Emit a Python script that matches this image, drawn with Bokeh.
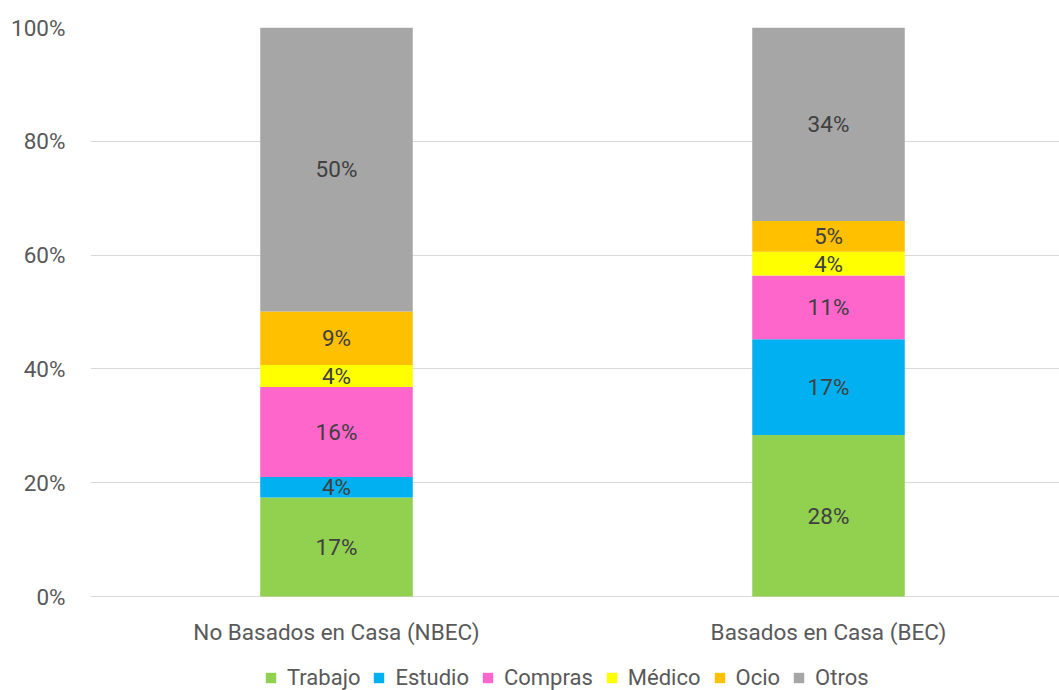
from bokeh.plotting import figure
from bokeh.models import (ColumnDataSource, Range1d, FixedTicker, PrintfTickFormatter,
                          Legend, LegendItem)
from bokeh.core.properties import value
from bokeh.embed import file_html
from bokeh.resources import INLINE

categories = ["No Basados en Casa (NBEC)", "Basados en Casa (BEC)"]
series = ["Trabajo", "Estudio", "Compras", "Médico", "Ocio", "Otros"]
trabajo = [17.4, 28.4]
estudio = [3.6, 16.8]
compras = [15.8, 11.2]
medico = [3.9, 4.2]
ocio = [9.4, 5.4]
otros = [49.9, 34.0]
colors = ["#92d050", "#00b0f0", "#ff66cc", "#ffff00", "#ffc000", "#a6a6a6"]
y_ticks = [0, 20, 40, 60, 80, 100]

FONT = "Roboto"
GREY = "#595959"

xs = list(range(len(categories)))
keys = ["trabajo", "estudio", "compras", "medico", "ocio", "otros"]
vals = [trabajo, estudio, compras, medico, ocio, otros]
data = {"x": xs}
for k, v in zip(keys, vals):
    data[k] = v
src = ColumnDataSource(data)

# frame extends to the bottom of the picture so the legend can sit below the bars
p = figure(width=1059, height=690, output_backend="svg", toolbar_location=None,
           x_range=Range1d(-0.5, 1.4695), y_range=Range1d(-16.52, 100),
           x_axis_location=None,
           min_border_left=90, min_border_right=0, min_border_top=27,
           min_border_bottom=0)
p.outline_line_color = None
p.background_fill_color = "white"

p.xgrid.visible = False
p.ygrid.ticker = FixedTicker(ticks=y_ticks)
p.ygrid.grid_line_color = "#d9d9d9"
p.ygrid.grid_line_width = 1

renderers = p.vbar_stack(keys, x="x", width=0.31, source=src, color=colors,
                         line_color=None)

# data labels
lx, ly, lt = [], [], []
for i in range(len(categories)):
    base = 0.0
    for v in vals:
        lx.append(xs[i])
        ly.append(base + v[i] / 2.0)
        lt.append(f"{round(v[i])}%")
        base += v[i]
p.text(x=lx, y=ly, text=lt, text_font=value(FONT), text_font_size="22.5px",
       text_color="#404040", text_align="center", text_baseline="middle")

# category labels under the bars
p.text(x=xs, y=[0] * len(xs), text=categories, text_font=value(FONT),
       text_font_size="22.5px", text_color=GREY, text_align="center",
       text_baseline="middle", y_offset=35)

# y axis
ax = p.yaxis[0]
ax.ticker = FixedTicker(ticks=y_ticks)
ax.formatter = PrintfTickFormatter(format="%d%%")
ax.axis_line_color = None
ax.major_tick_line_color = None
ax.minor_tick_line_color = None
ax.major_tick_in = 0
ax.major_tick_out = 0
ax.major_label_text_font = FONT
ax.major_label_text_font_size = "22.5px"
ax.major_label_text_color = GREY
ax.major_label_standoff = 25

items = [LegendItem(label=s, renderers=[r]) for s, r in zip(series, renderers)]
legend = Legend(items=items, orientation="horizontal", location=(174, 0),
                padding=0, margin=0, spacing=12, glyph_width=13, glyph_height=13,
                label_standoff=10, label_text_font=FONT, label_text_font_size="22px",
                label_text_color=GREY, border_line_color=None,
                background_fill_alpha=0)
p.add_layout(legend)

open("out.html", "w").write(file_html(p, INLINE))
